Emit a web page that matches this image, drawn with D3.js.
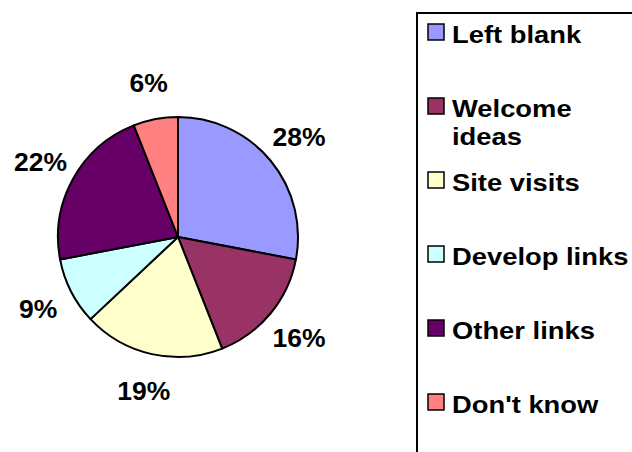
<!DOCTYPE html>
<html><head><meta charset="utf-8">
<script src="https://cdn.jsdelivr.net/npm/d3@7"></script>
<style>html,body{margin:0;padding:0;background:#fff;}svg{display:block;}</style>
</head><body>
<svg id="chart" width="632" height="452"></svg>
<script>
const categories = ["Left blank", "Welcome ideas", "Site visits", "Develop links", "Other links", "Don't know"];
const values = [28, 16, 19, 9, 22, 6];
const colors = ["#9999FF", "#993366", "#FFFFCC", "#CCFFFF", "#660066", "#FF8080"];
const legendLines = [["Left blank"], ["Welcome", "ideas"], ["Site visits"], ["Develop links"], ["Other links"], ["Don't know"]];

const svg = d3.select("#chart");
const cx = 178, cy = 237, r = 120;
const total = d3.sum(values);

const pie = d3.pie().sort(null).value(d => d)(values);
const arc = d3.arc().innerRadius(0).outerRadius(r);

const g = svg.append("g").attr("transform", `translate(${cx},${cy})`);
g.selectAll("path").data(pie).join("path")
  .attr("d", arc)
  .attr("fill", (d, i) => colors[i])
  .attr("stroke", "#000")
  .attr("stroke-width", 2)
  .attr("stroke-linejoin", "round");

const labelR = 157;
g.selectAll("text.pct").data(pie).join("text")
  .attr("class", "pct")
  .attr("x", d => labelR * Math.sin((d.startAngle + d.endAngle) / 2))
  .attr("y", d => -labelR * Math.cos((d.startAngle + d.endAngle) / 2))
  .attr("dy", "0.36em")
  .attr("text-anchor", "middle")
  .style("font-family", "'Liberation Sans', Arial, sans-serif")
  .style("font-weight", "bold")
  .style("font-size", "26.5px")
  .attr("fill", "#000")
  .text(d => Math.round(d.value / total * 100) + "%");

// Legend
svg.append("rect")
  .attr("x", 417).attr("y", 13)
  .attr("width", 300).attr("height", 500)
  .attr("fill", "#fff").attr("stroke", "#000").attr("stroke-width", 2);

const legendY = d3.scalePoint().domain(categories).range([43, 413]);
const lg = svg.append("g");
categories.forEach((c, i) => {
  const by = legendY(c);
  lg.append("rect")
    .attr("x", 428).attr("y", by - 19)
    .attr("width", 16).attr("height", 16)
    .attr("fill", colors[i]).attr("stroke", "#000").attr("stroke-width", 1.5);
  legendLines[i].forEach((line, j) => {
    lg.append("text")
      .attr("transform", `translate(452,${by + j * 28}) scale(1.19,1)`)
      .style("font-family", "'Liberation Sans', Arial, sans-serif")
      .style("font-weight", "bold")
      .style("font-size", "23px")
      .attr("fill", "#000")
      .text(line);
  });
});
</script>
</body></html>
